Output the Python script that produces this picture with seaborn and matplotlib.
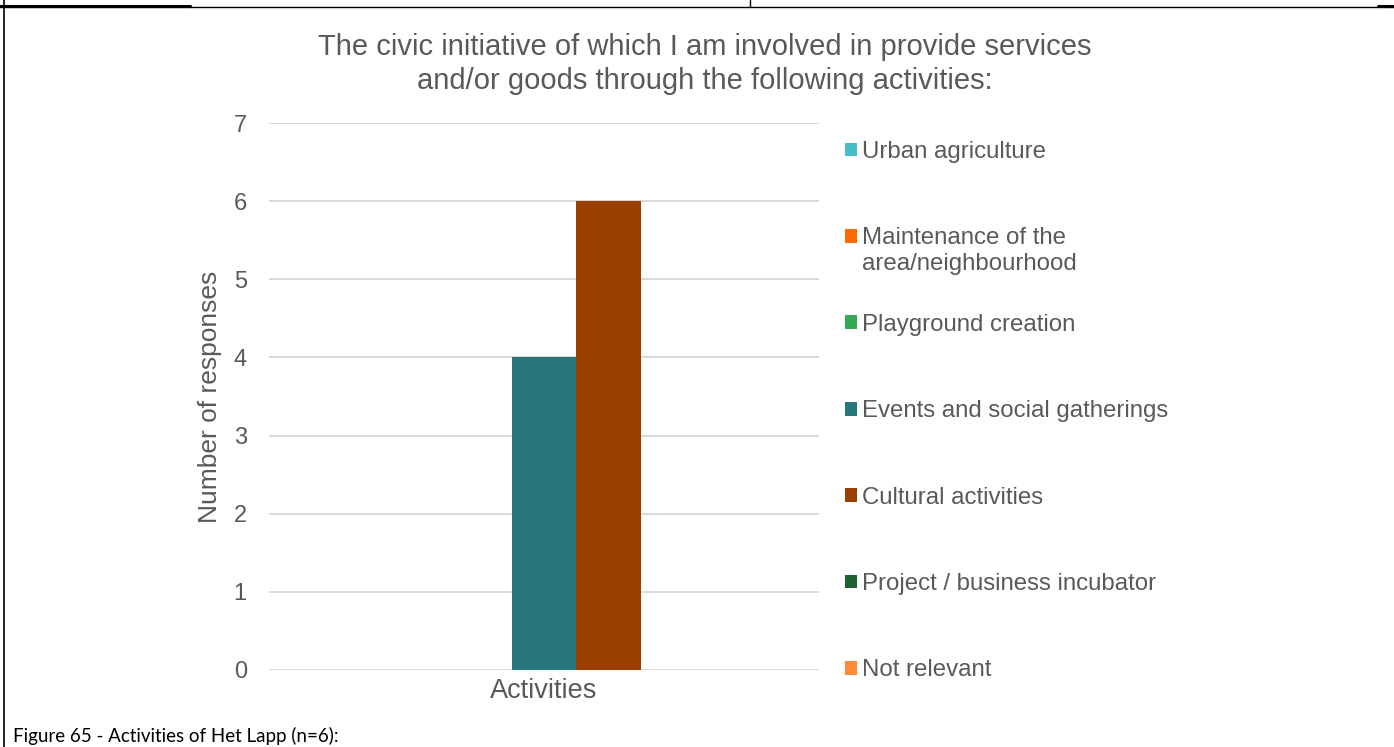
import matplotlib
matplotlib.use("Agg")
import matplotlib.pyplot as plt
from matplotlib.lines import Line2D
from matplotlib.offsetbox import TextArea
from matplotlib.transforms import Bbox
import types
import seaborn as sns
import pandas as pd

# Survey answers for the activities question
category = "Activities"
series = [
    "Urban agriculture",
    "Maintenance of the\narea/neighbourhood",
    "Playground creation",
    "Events and social gatherings",
    "Cultural activities",
    "Project / business incubator",
    "Not relevant",
]
responses = [0, 0, 0, 4, 6, 0, 0]
colors = ["#47BDC6", "#FF6A00", "#34A853", "#27767B", "#9A3F00", "#1E6233", "#FF8B38"]
yticks = [0, 1, 2, 3, 4, 5, 6, 7]

title = ("The civic initiative of which I am involved in provide services\n"
         "and/or goods through the following activities:")
ylabel = "Number of responses"
caption = "Figure 65 - Activities of Het Lapp (n=6):"

df = pd.DataFrame({"category": [category] * len(series),
                   "series": series,
                   "responses": responses})

sns.set_theme(style="white")
plt.rcParams["font.family"] = ["Liberation Sans", "DejaVu Sans"]

text_grey = "#595959"
grid_grey = "#D9D9D9"

fig = plt.figure(figsize=(13.94, 7.47), dpi=100)
ax = fig.add_axes([269 / 1394, 77 / 747, 550 / 1394, 547 / 747])

sns.barplot(data=df, x="category", y="responses", hue="series",
            hue_order=series, palette=colors, width=0.827, gap=0,
            saturation=1, linewidth=0, ax=ax)

ax.set_xlim(-0.5, 0.5)
ax.set_ylim(0, 7)
ax.set_yticks(yticks)
ax.yaxis.grid(True, color=grid_grey, linewidth=1.4)
ax.set_axisbelow(True)
for s in ax.spines.values():
    s.set_visible(False)
ax.tick_params(axis="y", length=0, labelsize=17, labelcolor=text_grey, pad=16)
ax.tick_params(axis="x", length=0, labelsize=19.5, labelcolor=text_grey, pad=6)
ax.set_xlabel("")
ax.set_ylabel(ylabel, fontsize=19, color=text_grey, labelpad=8)

handles, labels = ax.get_legend_handles_labels()
leg = ax.legend(handles, labels, loc="upper left",
                bbox_to_anchor=(845 / 1394, 1 - 141 / 747),
                bbox_transform=fig.transFigure, frameon=False,
                fontsize=17.3, labelcolor=text_grey, labelspacing=2.68,
                handlelength=0.5, handleheight=0.5, handletextpad=0.2,
                borderpad=0, borderaxespad=0)


# Wrapped legend labels keep the height of one row: the key lines up with
# the first line and the remaining lines hang below it.
def _first_line_bbox(self, renderer):
    _, h_, d_ = renderer.get_text_width_height_descent(
        "lp", self._text._fontproperties, ismath=False)
    bbox, info, _ = self._text._get_layout(renderer)
    drop = info[0][3] - info[-1][3]
    self._baseline_transform.clear()
    self._baseline_transform.translate(0, -drop)
    return Bbox.from_bounds(0, -d_, bbox.width, h_)


for box in leg.findobj(TextArea):
    if "\n" in box._text.get_text():
        box.get_bbox = types.MethodType(_first_line_bbox, box)

fig.text(705 / 1394, 1 - 64 / 747, title, ha="center", va="center",
         fontsize=21, color=text_grey, linespacing=1.25)

fig.text(13 / 1394, 1 - 742 / 747, caption, ha="left", va="baseline",
         fontsize=13.5, color="#000000", family=["Lato", "DejaVu Sans"])


# page rules and frame around the chart
def fig_line(x, y, lw):
    fig.add_artist(Line2D([v / 1394 for v in x], [1 - v / 747 for v in y],
                          color="black", linewidth=lw,
                          transform=fig.transFigure))


fig_line([0, 1394], [6.5, 6.5], 1.0)
fig_line([0, 190], [6, 6], 2.2)
fig_line([1378, 1394], [6, 6], 2.2)
fig_line([750, 750], [0, 6.5], 1.0)
fig_line([4, 4], [0, 747], 1.2)

fig.savefig("out.png", dpi=100, facecolor="white")
